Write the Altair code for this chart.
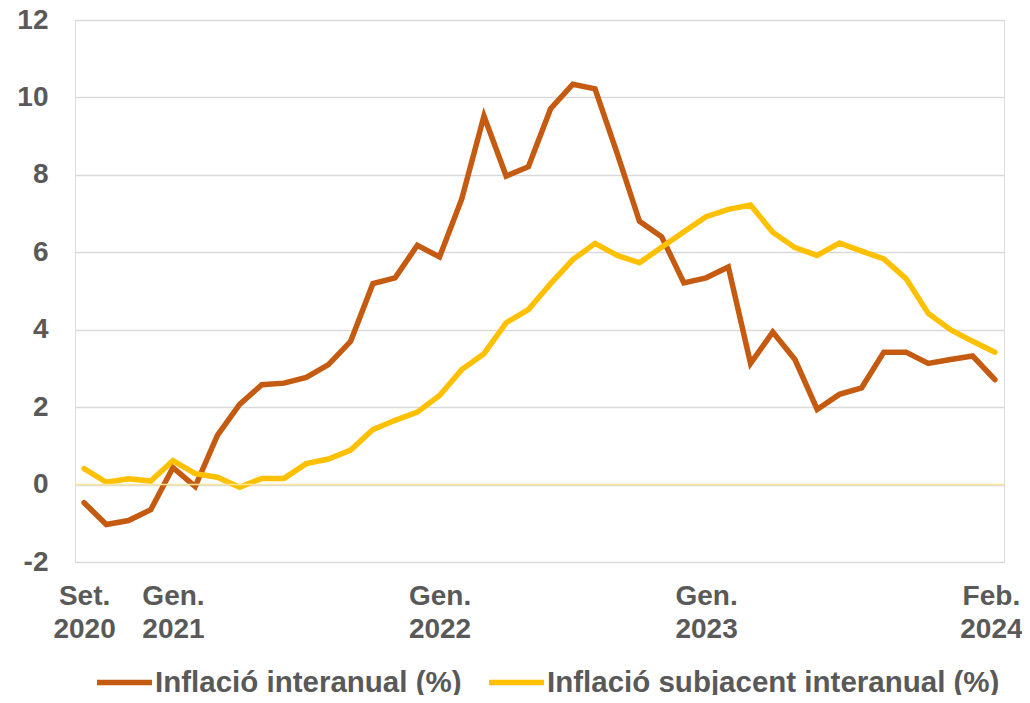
import altair as alt
import pandas as pd

months = list(range(42))  # Sep 2020 .. Feb 2024
inflacio = [-0.47, -1.03, -0.93, -0.65, 0.44, -0.05, 1.27, 2.07, 2.58, 2.62,
            2.77, 3.10, 3.70, 5.19, 5.34, 6.18, 5.88, 7.38, 9.52, 7.97,
            8.21, 9.71, 10.34, 10.22, 8.55, 6.80, 6.40, 5.21, 5.34, 5.62,
            3.13, 3.94, 3.23, 1.94, 2.33, 2.50, 3.42, 3.42, 3.13, 3.23,
            3.32, 2.71]
subjacent = [0.41, 0.06, 0.15, 0.09, 0.62, 0.28, 0.19, -0.07, 0.16, 0.16,
             0.54, 0.66, 0.89, 1.42, 1.66, 1.87, 2.30, 2.97, 3.38, 4.18,
             4.52, 5.19, 5.81, 6.23, 5.92, 5.73, 6.13, 6.53, 6.92, 7.11,
             7.22, 6.52, 6.12, 5.92, 6.24, 6.03, 5.83, 5.32, 4.42, 4.00,
             3.70, 3.42]
series_names = ["Inflació interanual (%)", "Inflació subjacent interanual (%)"]
series_colors = ["#C55A11", "#FFC000"]
tick_positions = [0, 4, 16, 28, 41]
tick_labels = [["Set.", "2020"], ["Gen.", "2021"], ["Gen.", "2022"],
               ["Gen.", "2023"], ["Feb.", "2024"]]
y_ticks = [-2, 0, 2, 4, 6, 8, 10, 12]

df = pd.DataFrame({"m": months, series_names[0]: inflacio, series_names[1]: subjacent})
long = df.melt("m", var_name="serie", value_name="valor")

expr = ""
for p, lab in zip(tick_positions, tick_labels):
    expr += f"datum.value == {p} ? ['{lab[0]}', '{lab[1]}'] : "
expr += "''"

FONT = "Liberation Sans"
TXT = "#595959"

x = alt.X("m:Q", scale=alt.Scale(domain=[-0.41, 41.41], nice=False, zero=False),
          axis=alt.Axis(values=tick_positions, labelExpr=expr, grid=False, domain=False,
                        ticks=False, labelPadding=20, labelFontSize=28, labelFont=FONT,
                        labelFontWeight="bold", labelColor=TXT, labelLineHeight=33,
                        labelOverlap=False, labelFlush=False, labelBound=False, title=None,
                        labelOffset={"condition": {"test": f"datum.value == {tick_positions[-1]}",
                                                   "value": -4}, "value": 0}))
y = alt.Y("valor:Q", scale=alt.Scale(domain=[-2, 12], nice=False),
          axis=alt.Axis(values=y_ticks, grid=True, gridColor="#D9D9D9", gridWidth=1.5,
                        domain=False, ticks=False, labelPadding=27, labelFontSize=28,
                        labelFont=FONT, labelFontWeight="bold", labelColor=TXT, title=None,
                        labelExpr="datum.value < 0 ? '-' + abs(datum.value) : datum.label"))

zero = alt.Chart(pd.DataFrame({"z": [0]})).mark_rule(color="#FFE699", strokeWidth=1.5).encode(
    y=alt.Y("z:Q", scale=alt.Scale(domain=[-2, 12], nice=False))
)

lines = alt.Chart(long).mark_line(strokeWidth=5.5, strokeJoin="miter", strokeCap="round").encode(
    x=x, y=y,
    color=alt.Color("serie:N", scale=alt.Scale(domain=series_names, range=series_colors),
                    sort=series_names,
                    legend=alt.Legend(orient="none", legendX=19, legendY=632, direction="horizontal",
                                      title=None, symbolType="stroke", symbolSize=3025,
                                      symbolStrokeWidth=5.5, labelFontSize=29.5, labelFont=FONT,
                                      labelFontWeight="bold", labelColor=TXT, labelOffset=0,
                                      columnPadding=16, padding=0, labelLimit=600)),
    detail="serie:N",
)

chart = alt.layer(lines, zero).properties(
    width=929, height=542,
    autosize=alt.AutoSizeParams(type="none"),
    padding={"left": 67, "top": 12, "right": 18, "bottom": 133},
).configure_view(stroke=None).configure(background="white")

chart.save("out.html", embed_options={"renderer": "svg", "actions": False})
